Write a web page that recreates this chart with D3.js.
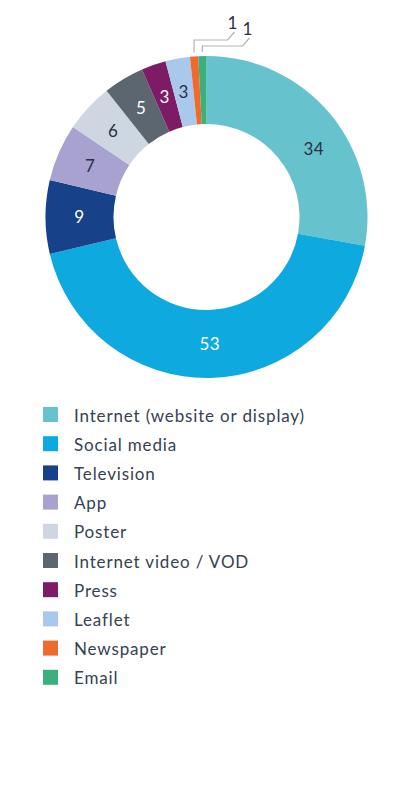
<!DOCTYPE html>
<html>
<head>
<meta charset="utf-8">
<script src="https://cdn.jsdelivr.net/npm/d3@7"></script>
<style>
  html, body { margin: 0; padding: 0; background: #ffffff; }
  svg { display: block; }
  text { font-family: Lato, "Open Sans", sans-serif; }
</style>
</head>
<body>
<svg id="chart" width="414" height="803"></svg>
<script>
const categories = ["Internet (website or display)", "Social media", "Television", "App", "Poster", "Internet video / VOD", "Press", "Leaflet", "Newspaper", "Email"];
const values = [34, 53, 9, 7, 6, 5, 3, 3, 1, 1];
const colors = ["#66c2cc", "#0eaadf", "#174189", "#a7a2d0", "#cdd6e1", "#5b6670", "#7e1b66", "#a8c8ec", "#ef6a2c", "#3bb07f"];
const labelColors = ["#2b3044", "#ffffff", "#ffffff", "#2b3044", "#2b3044", "#ffffff", "#ffffff", "#2b3044", "#2b3044", "#2b3044"];

const data = categories.map((c, i) => ({ name: c, value: values[i], color: colors[i], labelColor: labelColors[i] }));

const svg = d3.select("#chart");
const cx = 206.5, cy = 217, outerR = 161, innerR = 93;

const pie = d3.pie().value(d => d.value).sort(null);
const arcs = pie(data);
const arc = d3.arc().innerRadius(innerR).outerRadius(outerR);
const labelArc = d3.arc().innerRadius(127).outerRadius(127);

const g = svg.append("g").attr("transform", `translate(${cx},${cy})`);

g.selectAll("path.slice").data(arcs).enter().append("path")
  .attr("class", "slice")
  .attr("d", arc)
  .attr("fill", d => d.data.color);

// inner labels
g.selectAll("text.inlabel").data(arcs.filter(d => d.data.value > 1)).enter().append("text")
  .attr("class", "inlabel")
  .attr("transform", d => {
    let [x, y] = labelArc.centroid(d);
    if (d.index === 0) {
      const a = (d.startAngle + d.endAngle) / 2 + 0.13;
      x = 127 * Math.sin(a); y = -127 * Math.cos(a);
    }
    return `translate(${x},${y})`;
  })
  .attr("text-anchor", "middle")
  .attr("dy", "0.36em")
  .attr("font-size", 17)
  .attr("letter-spacing", 0.5)
  .attr("fill", d => d.data.labelColor)
  .text(d => d.data.value);

// outside labels with leader lines for tiny slices
const small = arcs.filter(d => d.data.value <= 1);
small.forEach((d, k) => {
  const a = (d.startAngle + d.endAngle) / 2;
  const sx = (outerR) * Math.sin(a);
  const sy = -(outerR + 4) * Math.cos(a);
  const ey = -outerR - 16 + 6 * k;
  const hx = 21 + 15 * k;
  const dx = hx + 7, dy = ey - 8;
  g.append("polyline")
    .attr("points", `${sx},${sy} ${sx},${ey} ${hx},${ey} ${dx},${dy}`)
    .attr("fill", "none")
    .attr("stroke", "#b3b3b3")
    .attr("stroke-width", 1.2);
  g.append("text")
    .attr("x", dx - 2)
    .attr("y", dy - 3)
    .attr("text-anchor", "middle")
    .attr("font-size", 17)
    .attr("fill", "#2b3044")
    .text(d.data.value);
});

// legend
const legend = svg.append("g").attr("transform", "translate(43,407)");
const rowH = 29.2;
const rows = legend.selectAll("g.row").data(data).enter().append("g")
  .attr("class", "row")
  .attr("transform", (d, i) => `translate(0,${i * rowH})`);
rows.append("rect").attr("width", 15).attr("height", 15).attr("fill", d => d.color);
rows.append("text")
  .attr("x", 31)
  .attr("y", 8.5)
  .attr("dy", "0.36em")
  .attr("font-size", 17)
  .attr("letter-spacing", 0.85)
  .attr("fill", "#364152")
  .text(d => d.name);
</script>
</body>
</html>
